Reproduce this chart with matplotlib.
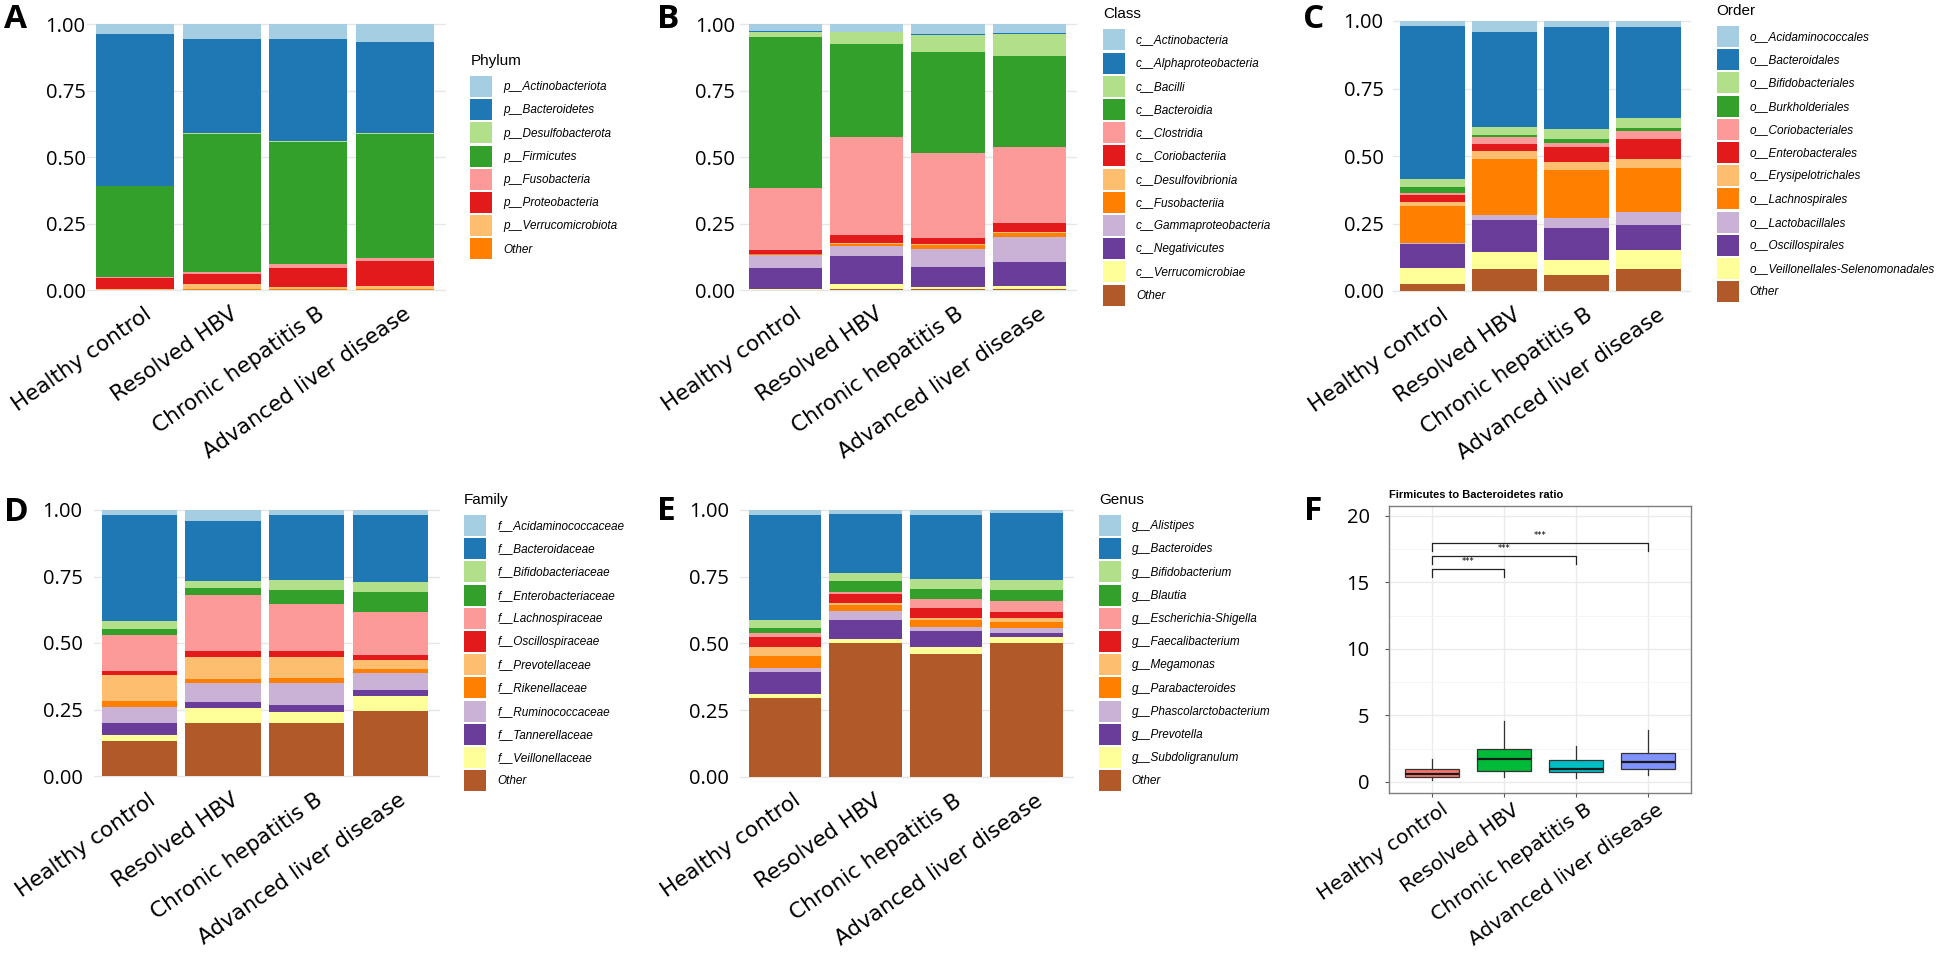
import numpy as np
import matplotlib
matplotlib.use("Agg")
import matplotlib.pyplot as plt
import matplotlib.transforms as mtransforms
from matplotlib.patches import Patch

# ---------------------------------------------------------------- data
groups = ["Healthy control", "Resolved HBV", "Chronic hepatitis B", "Advanced liver disease"]

# ColorBrewer "Paired"
paired = ["#A6CEE3", "#1F78B4", "#B2DF8A", "#33A02C", "#FB9A99", "#E31A1C",
          "#FDBF6F", "#FF7F00", "#CAB2D6", "#6A3D9A", "#FFFF99", "#B15928"]

# relative abundance, one row per taxon (legend order), columns = groups
phylum_taxa = ["p__Actinobacteriota", "p__Bacteroidetes", "p__Desulfobacterota", "p__Firmicutes",
               "p__Fusobacteria", "p__Proteobacteria", "p__Verrucomicrobiota", "Other"]
phylum_values = [
    [0.039, 0.056, 0.058, 0.068],
    [0.570, 0.355, 0.383, 0.343],
    [0.000, 0.001, 0.001, 0.001],
    [0.341, 0.519, 0.462, 0.468],
    [0.004, 0.010, 0.015, 0.012],
    [0.043, 0.036, 0.068, 0.093],
    [0.003, 0.021, 0.011, 0.013],
    [0.000, 0.002, 0.002, 0.002],
]

class_taxa = ["c__Actinobacteria", "c__Alphaproteobacteria", "c__Bacilli", "c__Bacteroidia",
              "c__Clostridia", "c__Coriobacteriia", "c__Desulfovibrionia", "c__Fusobacteriia",
              "c__Gammaproteobacteria", "c__Negativicutes", "c__Verrucomicrobiae", "Other"]
class_values = [
    [0.029, 0.029, 0.039, 0.035],
    [0.001, 0.001, 0.001, 0.001],
    [0.021, 0.044, 0.066, 0.085],
    [0.568, 0.352, 0.380, 0.340],
    [0.233, 0.367, 0.320, 0.288],
    [0.013, 0.029, 0.021, 0.032],
    [0.002, 0.005, 0.004, 0.006],
    [0.002, 0.008, 0.014, 0.013],
    [0.048, 0.037, 0.067, 0.095],
    [0.081, 0.107, 0.075, 0.089],
    [0.002, 0.018, 0.008, 0.011],
    [0.001, 0.003, 0.005, 0.005],
]

order_taxa = ["o__Acidaminococcales", "o__Bacteroidales", "o__Bifidobacteriales", "o__Burkholderiales",
              "o__Coriobacteriales", "o__Enterobacterales", "o__Erysipelotrichales", "o__Lachnospirales",
              "o__Lactobacillales", "o__Oscillospirales", "o__Veillonellales-Selenomonadales", "Other"]
order_values = [
    [0.020, 0.042, 0.021, 0.021],
    [0.567, 0.351, 0.380, 0.339],
    [0.028, 0.029, 0.036, 0.037],
    [0.021, 0.006, 0.013, 0.009],
    [0.010, 0.028, 0.018, 0.031],
    [0.024, 0.027, 0.055, 0.074],
    [0.015, 0.028, 0.030, 0.034],
    [0.137, 0.208, 0.177, 0.161],
    [0.005, 0.018, 0.035, 0.049],
    [0.087, 0.120, 0.122, 0.094],
    [0.060, 0.063, 0.052, 0.071],
    [0.026, 0.080, 0.061, 0.080],
]

family_taxa = ["f__Acidaminococcaceae", "f__Bacteroidaceae", "f__Bifidobacteriaceae", "f__Enterobacteriaceae",
               "f__Lachnospiraceae", "f__Oscillospiraceae", "f__Prevotellaceae", "f__Rikenellaceae",
               "f__Ruminococcaceae", "f__Tannerellaceae", "f__Veillonellaceae", "Other"]
family_values = [
    [0.019, 0.040, 0.019, 0.020],
    [0.398, 0.226, 0.243, 0.252],
    [0.030, 0.026, 0.039, 0.038],
    [0.024, 0.029, 0.052, 0.075],
    [0.134, 0.209, 0.178, 0.159],
    [0.015, 0.024, 0.020, 0.020],
    [0.097, 0.081, 0.082, 0.034],
    [0.022, 0.017, 0.017, 0.014],
    [0.062, 0.069, 0.083, 0.063],
    [0.044, 0.023, 0.026, 0.024],
    [0.022, 0.055, 0.043, 0.057],
    [0.133, 0.201, 0.198, 0.244],
]

genus_taxa = ["g__Alistipes", "g__Bacteroides", "g__Bifidobacterium", "g__Blautia",
              "g__Escherichia-Shigella", "g__Faecalibacterium", "g__Megamonas", "g__Parabacteroides",
              "g__Phascolarctobacterium", "g__Prevotella", "g__Subdoligranulum", "Other"]
genus_values = [
    [0.017, 0.015, 0.017, 0.010],
    [0.395, 0.222, 0.242, 0.252],
    [0.030, 0.030, 0.037, 0.038],
    [0.020, 0.042, 0.039, 0.040],
    [0.013, 0.007, 0.034, 0.044],
    [0.037, 0.034, 0.035, 0.022],
    [0.035, 0.006, 0.007, 0.013],
    [0.044, 0.021, 0.028, 0.022],
    [0.016, 0.035, 0.013, 0.019],
    [0.084, 0.073, 0.063, 0.017],
    [0.015, 0.015, 0.025, 0.023],
    [0.294, 0.500, 0.460, 0.500],
]

# Firmicutes / Bacteroidetes ratio, box statistics per group
fb_whislo = [0.15, 0.40, 0.33, 0.50]
fb_q1 = [0.35, 0.85, 0.73, 0.95]
fb_med = [0.60, 1.70, 1.00, 1.50]
fb_q3 = [0.95, 2.46, 1.65, 2.21]
fb_whishi = [1.70, 4.61, 2.73, 3.91]
fb_colors = ["#F8766D", "#00BA38", "#00BFC4", "#7F92FF"]
fb_pairs = [(1, 2), (1, 3), (1, 4)]
fb_heights = [16, 17, 18]
fb_labels = ["***", "***", "***"]

# ---------------------------------------------------------------- layout
W, H = 1958, 956
fig = plt.figure(figsize=(W / 100, H / 100), dpi=100)

TICK_FONT = "Open Sans"
XLAB_FONT = "DejaVu Sans"
LEG_FONT = "Liberation Sans"
XLAB_SIZE = 15.5


def px_rect(left, right, top, bottom):
    return [left / W, 1 - bottom / H, (right - left) / W, (bottom - top) / H]


def shift_xlabels(ax, dx_px, dy_px=0):
    off = mtransforms.ScaledTranslation(dx_px / 100, dy_px / 100, fig.dpi_scale_trans)
    for lab in ax.xaxis.get_majorticklabels():
        lab.set_transform(lab.get_transform() + off)


def bar_panel(c1, pitch, y1, y0, taxa, values, colors, ypad,
              leg_left, leg_top, title, letter, letter_xy):
    xlo, xhi, ylo, yhi = 0.45, 4.59, -0.015, 1.015
    span = y0 - y1
    rect = px_rect(c1 + (xlo - 1) * pitch, c1 + (xhi - 1) * pitch,
                   y1 - (yhi - 1) * span, y0 - ylo * span)
    ax = fig.add_axes(rect)
    x = np.arange(1, len(groups) + 1)
    bottom = np.zeros(len(groups))
    for name, vals, col in reversed(list(zip(taxa, values, colors))):
        vals = np.array(vals)
        ax.bar(x, vals, bottom=bottom, width=0.9, color=col, linewidth=0)
        bottom += vals
    ax.set_xlim(xlo, xhi)
    ax.set_ylim(ylo, yhi)
    ax.set_yticks([0, 0.25, 0.5, 0.75, 1.0])
    ax.set_yticklabels(["0.00", "0.25", "0.50", "0.75", "1.00"],
                       fontfamily=TICK_FONT, fontsize=14.5)
    ax.set_xticks(x)
    ax.set_xticklabels(groups, rotation=35, ha="right", va="top",
                       rotation_mode="anchor", fontfamily=XLAB_FONT, fontsize=XLAB_SIZE)
    ax.tick_params(axis="both", length=0)
    ax.tick_params(axis="y", pad=ypad)
    ax.tick_params(axis="x", pad=7)
    shift_xlabels(ax, 8)
    ax.yaxis.grid(True, color="#E6E6E6", linewidth=1.0)
    ax.set_axisbelow(True)
    for s in ax.spines.values():
        s.set_visible(False)

    # legend keys: 21 px tall, 23.2 px pitch
    handles = [Patch(facecolor=c, edgecolor="none") for c in colors]
    fs = 8.5
    fspx = fs * 100 / 72
    hh = (21 / fspx - 0.245) / 0.65
    fig.legend(handles, taxa, loc="upper left",
               bbox_to_anchor=(leg_left / W, 1 - leg_top / H),
               frameon=False, borderpad=0, borderaxespad=0,
               handlelength=22 / fspx, handleheight=hh,
               labelspacing=2.2 / fspx, handletextpad=11 / fspx,
               prop={"family": LEG_FONT, "style": "italic", "size": fs})
    fig.text(leg_left / W, 1 - (leg_top - 15) / H, title, fontsize=11,
             family=LEG_FONT, ha="left", va="center")
    fig.text(letter_xy[0] / W, 1 - letter_xy[1] / H, letter, fontsize=24,
             fontweight="bold", family=TICK_FONT, ha="left", va="baseline")
    return ax


bar_panel(135.1, 86.6, 24, 290, phylum_taxa, phylum_values, paired[:8], 1.5,
          470.5, 76, "Phylum", "A", (4, 28))
bar_panel(785.2, 81.4, 24, 290, class_taxa, class_values, paired, 4,
          1103, 29.3, "Class", "B", (657, 28))
bar_panel(1432.8, 72.0, 21, 291, order_taxa, order_values, paired, 7,
          1716.7, 26, "Order", "C", (1303, 28))
bar_panel(139.5, 83.6, 510, 776, family_taxa, family_values, paired, 8,
          464.2, 515, "Family", "D", (4, 521))
bar_panel(784.8, 80.6, 510, 776.7, genus_taxa, genus_values, paired, 8,
          1098.8, 515, "Genus", "E", (657, 520))

# ---------------------------------------------------------------- panel F
ax = fig.add_axes(px_rect(1389, 1691.5, 506, 793.3))
pos = np.arange(1, len(groups) + 1)
stats = [dict(med=m, q1=a, q3=b, whislo=lo, whishi=hi, fliers=[])
         for m, a, b, lo, hi in zip(fb_med, fb_q1, fb_q3, fb_whislo, fb_whishi)]
bp = ax.bxp(stats, positions=pos, widths=0.75, patch_artist=True, showcaps=False,
            boxprops=dict(edgecolor="#333333", linewidth=0.9),
            medianprops=dict(color="#1A1A1A", linewidth=1.6),
            whiskerprops=dict(color="#333333", linewidth=0.9))
for patch, col in zip(bp["boxes"], fb_colors):
    patch.set_facecolor(col)

for (a, b), h, lab in zip(fb_pairs, fb_heights, fb_labels):
    ax.plot([a, a, b, b], [h - 0.6, h, h, h - 0.6], color="#222222", linewidth=0.9)
    ax.text((a + b) / 2, h + 0.55, lab, ha="center", va="center", fontsize=6)

ax.set_xlim(0.4, 4.6)
ax.set_ylim(-0.85, 20.75)
ax.set_yticks([0, 5, 10, 15, 20])
ax.set_yticks([2.5, 7.5, 12.5, 17.5], minor=True)
ax.set_yticklabels(["0", "5", "10", "15", "20"], fontfamily=TICK_FONT, fontsize=14.5)
ax.set_xticks(pos)
ax.set_xticklabels(groups, rotation=35, ha="right", va="top",
                   rotation_mode="anchor", fontfamily=XLAB_FONT, fontsize=14.5)
ax.tick_params(axis="both", which="major", length=3, color="#555555")
ax.tick_params(axis="y", which="minor", length=0)
ax.tick_params(axis="y", pad=11)
ax.tick_params(axis="x", pad=2)
shift_xlabels(ax, 8)
ax.grid(True, which="major", color="#EBEBEB", linewidth=1.0)
ax.grid(True, which="minor", axis="y", color="#F4F4F4", linewidth=0.6)
ax.set_axisbelow(True)
for s in ax.spines.values():
    s.set_color("#7F7F7F")
    s.set_linewidth(1.0)
ax.set_title("Firmicutes to Bacteroidetes ratio", loc="left", fontsize=8,
             fontweight="bold", family=LEG_FONT, pad=6)
fig.text(1304 / W, 1 - 520 / H, "F", fontsize=24, fontweight="bold",
         family=TICK_FONT, ha="left", va="baseline")

fig.savefig("out.png", dpi=100)
